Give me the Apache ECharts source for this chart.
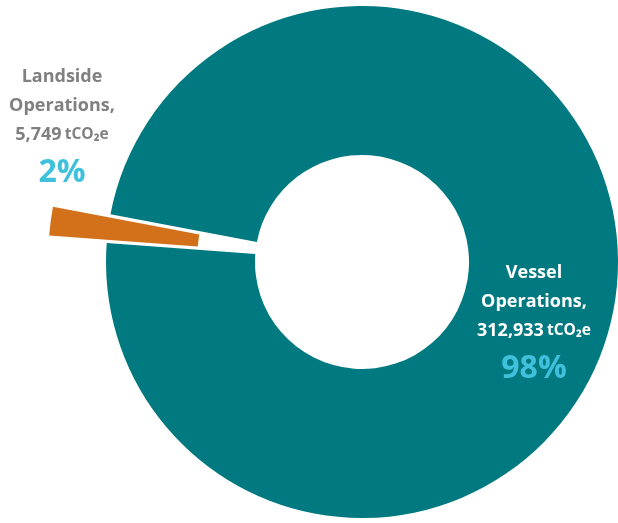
<!DOCTYPE html>
<html>
<head>
<meta charset="utf-8">
<style>
  html, body { margin: 0; padding: 0; background: #fff; }
  #main { width: 618px; height: 523px; }
</style>
<script src="https://cdn.jsdelivr.net/npm/echarts@6/dist/echarts.min.js"></script>
</head>
<body>
<div id="main"></div>
<script>
// data
var categories = ['Landside Operations,', 'Vessel Operations,'];
var emissions = [5749, 312933];
var unit = 'tCO₂e';

var sliceColors = ['#d3711a', '#007a80'];
var textColors = ['#808080', '#ffffff'];
var labelSpots = [[62, 62], [534, 258]];

var total = emissions.reduce(function (a, b) { return a + b; }, 0);

// geometry of the donut
var cx = 362, cy = 262;
var startAngle = 175.75;
var pull = 58;   // how far the small slice is pulled out

// mid angle of the small slice (first item, clockwise)
var midAngle = (startAngle - emissions[0] / total * 360 / 2) * Math.PI / 180;
var pulledCenter = [cx + pull * Math.cos(midAngle), cy - pull * Math.sin(midAngle)];

function labelText(p) {
    var words = p.name.split(' ');
    var pct = Math.round(p.value / total * 100);
    return '{n|' + words[0] + '}\n{n|' + words[1] + '}\n{v|' +
        p.value.toLocaleString('en-US') + '} {u|' + unit + '}\n{p|' + pct + '%}';
}

var rich = {
    n: { fontSize: 18, lineHeight: 29, fontFamily: 'Open Sans', fontWeight: 'bold' },
    v: { fontSize: 18, lineHeight: 29, fontFamily: 'Open Sans', fontWeight: 'bold' },
    u: { fontSize: 15.5, lineHeight: 29, fontFamily: 'Open Sans', fontWeight: 'bold' },
    p: { fontSize: 32, lineHeight: 48, color: '#3fc1dc', fontFamily: 'Open Sans', fontWeight: 'bold' }
};

// series 0 draws the big slice, series 1 the pulled-out small one
function buildData(show) {
    return categories.map(function (c, i) {
        var on = i === show;
        return {
            name: c,
            value: emissions[i],
            itemStyle: { color: on ? sliceColors[i] : 'rgba(0,0,0,0)' },
            label: { show: on, color: textColors[i] }
        };
    });
}

function makeSeries(center, show) {
    return {
        type: 'pie',
        center: center,
        radius: [107, 256],
        startAngle: startAngle,
        clockwise: true,
        silent: true,
        avoidLabelOverlap: false,
        labelLine: { show: false },
        label: {
            position: 'inside',
            fontFamily: 'Open Sans',
            fontWeight: 'bold',
            formatter: labelText,
            rich: rich
        },
        labelLayout: function (params) {
            var s = labelSpots[params.dataIndex];
            return { x: s[0], y: s[1], align: 'center', verticalAlign: 'top' };
        },
        data: buildData(show)
    };
}

var myChart = echarts.init(document.getElementById('main'));

var option = {
    animation: false,
    series: [
        makeSeries([cx, cy], 1),
        makeSeries(pulledCenter, 0)
    ]
};

myChart.setOption(option);
</script>
</body>
</html>
